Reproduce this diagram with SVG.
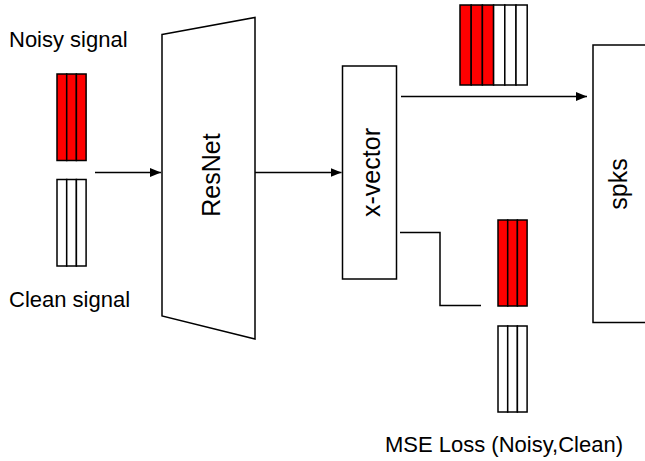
<svg xmlns="http://www.w3.org/2000/svg" width="645" height="461" viewBox="0 0 645 461">
<defs>
<style>
.s{fill:#fff;stroke:#000;stroke-width:1.5}
.r{fill:#f00;stroke:#000;stroke-width:1.5}
.ln{fill:none;stroke:#000;stroke-width:1.5}
.t{font-family:"Liberation Sans",Arial,sans-serif;font-size:22px;fill:#000}
.tv{font-family:"Liberation Sans",Arial,sans-serif;font-size:25px;fill:#000;text-anchor:middle}
</style>
<marker id="ah" markerWidth="12" markerHeight="9" refX="11" refY="4.5" orient="auto" markerUnits="userSpaceOnUse">
<path d="M0,0 L11,4.5 L0,9 Z" fill="#000"/>
</marker>
</defs>
<rect width="645" height="461" fill="#fff"/>
<g id="noisy-label"><text class="t" x="9" y="47">Noisy signal</text></g>
<g id="clean-label"><text class="t" x="9" y="307">Clean signal</text></g>
<g id="noisy-signal">
<rect class="r" x="57" y="74" width="9.7" height="86.5"/>
<rect class="r" x="66.7" y="74" width="9.7" height="86.5"/>
<rect class="r" x="76.4" y="74" width="9.7" height="86.5"/>
</g>
<g id="clean-signal">
<rect class="s" x="57" y="179.5" width="9.7" height="86.5"/>
<rect class="s" x="66.7" y="179.5" width="9.7" height="86.5"/>
<rect class="s" x="76.4" y="179.5" width="9.7" height="86.5"/>
</g>
<g id="resnet">
<polygon class="s" points="162,34.5 255,17.5 255,339 162,316"/>
<text class="tv" transform="translate(220,175) rotate(-90)">ResNet</text>
</g>
<g id="xvector">
<rect class="s" x="342.5" y="66" width="54" height="213"/>
<text class="tv" transform="translate(380,172.5) rotate(-90)">x-vector</text>
</g>
<g id="spks">
<rect class="s" x="593" y="45" width="60" height="277.5"/>
<text class="tv" transform="translate(627,184) rotate(-90)">spks</text>
</g>
<g id="embedding-stack">
<rect class="r" x="460" y="5" width="11.2" height="80"/>
<rect class="r" x="471.2" y="5" width="11.2" height="80"/>
<rect class="r" x="482.4" y="5" width="11.2" height="80"/>
<rect class="s" x="493.6" y="5" width="11.2" height="80"/>
<rect class="s" x="504.8" y="5" width="11.2" height="80"/>
<rect class="s" x="516" y="5" width="11.2" height="80"/>
</g>
<g id="loss-noisy">
<rect class="r" x="498" y="220" width="9.7" height="86"/>
<rect class="r" x="507.7" y="220" width="9.7" height="86"/>
<rect class="r" x="517.4" y="220" width="9.7" height="86"/>
</g>
<g id="loss-clean">
<rect class="s" x="498" y="326" width="9.7" height="86"/>
<rect class="s" x="507.7" y="326" width="9.7" height="86"/>
<rect class="s" x="517.4" y="326" width="9.7" height="86"/>
</g>
<g id="mse-label"><text class="t" x="385" y="452">MSE Loss (Noisy,Clean)</text></g>
<g id="connectors">
<line class="ln" x1="95" y1="172.5" x2="161" y2="172.5" marker-end="url(#ah)"/>
<line class="ln" x1="255" y1="172.5" x2="341.5" y2="172.5" marker-end="url(#ah)"/>
<line class="ln" x1="401" y1="96.5" x2="587" y2="96.5" marker-end="url(#ah)"/>
<polyline class="ln" points="400,232.5 440,232.5 440,305.5 481,305.5"/>
</g>
</svg>
